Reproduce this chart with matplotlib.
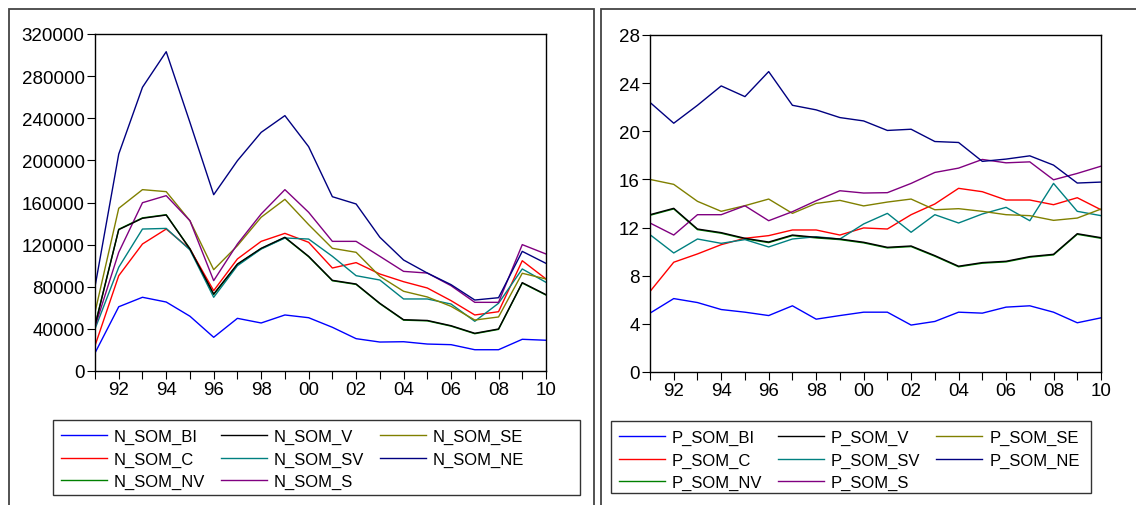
import matplotlib
matplotlib.use("Agg")
import matplotlib.pyplot as plt
from matplotlib.patches import Rectangle

plt.rcParams['font.family'] = ['Liberation Sans', 'DejaVu Sans']

# years on the x axis
years = list(range(1991, 2011))
year_labels = ['' if y % 2 else '%02d' % (y % 100) for y in years]

# left panel: numbers (N_SOM_*)
n_bi = [17100, 61000, 70000, 65500, 52000, 32000, 50000, 45600, 53200, 50600,
        41500, 30700, 27500, 27800, 25600, 25000, 20200, 20200, 30100, 29200]
n_v = [43000, 134200, 145000, 148100, 115800, 73100, 101600, 116500, 127000, 108900,
       86100, 82600, 64300, 48700, 48000, 43000, 35800, 39900, 83900, 72500]
n_se = [55700, 154500, 172200, 170300, 142700, 96200, 119000, 146000, 163000, 139000,
        116500, 112700, 89900, 75700, 70300, 61400, 48400, 51300, 92800, 87400]
n_c = [24000, 90500, 120600, 134800, 115800, 76300, 106400, 123100, 130700, 122200,
       97800, 102900, 92100, 84800, 78800, 66800, 53200, 56300, 104700, 87400]
n_sv = [39900, 98500, 134800, 135400, 115000, 70000, 100000, 115800, 126300, 125300,
        108900, 90500, 86400, 68400, 68400, 63600, 47200, 64300, 96900, 84200]
n_ne = [80000, 206000, 269400, 303200, 236000, 167400, 199700, 226600, 242500, 213000,
        165500, 158600, 127000, 105400, 93000, 82000, 67400, 69600, 113600, 102200]
n_nv = [43500, 134600, 145400, 148400, 116200, 72600, 101200, 116100, 126600, 108500,
        85700, 82200, 63900, 48300, 47600, 42600, 35400, 39500, 83500, 72100]
n_s = [42000, 112700, 159800, 166500, 142700, 85800, 120600, 149100, 172200, 150700,
       123100, 123100, 108900, 94600, 93000, 81000, 65200, 65200, 120000, 111100]

# right panel: shares (P_SOM_*)
p_bi = [4.89, 6.10, 5.77, 5.19, 4.97, 4.69, 5.50, 4.39, 4.69, 4.97,
        4.97, 3.90, 4.20, 4.97, 4.89, 5.39, 5.50, 4.97, 4.09, 4.50]
p_v = [13.07, 13.60, 11.88, 11.58, 11.11, 10.80, 11.38, 11.19, 11.05, 10.78,
       10.36, 10.47, 9.67, 8.79, 9.09, 9.20, 9.59, 9.78, 11.49, 11.16]
p_se = [16.00, 15.59, 14.18, 13.35, 13.82, 14.37, 13.18, 14.01, 14.26, 13.80,
        14.12, 14.37, 13.48, 13.57, 13.35, 13.07, 12.99, 12.60, 12.79, 13.54]
p_c = [6.69, 9.12, 9.81, 10.58, 11.11, 11.33, 11.80, 11.80, 11.38, 11.97,
       11.88, 13.07, 13.96, 15.26, 14.98, 14.29, 14.29, 13.90, 14.48, 13.48]
p_sv = [11.41, 9.89, 11.05, 10.69, 11.00, 10.39, 11.05, 11.24, 11.05, 12.30,
        13.18, 11.61, 13.07, 12.38, 13.13, 13.68, 12.57, 15.67, 13.35, 12.99]
p_ne = [22.40, 20.67, 22.16, 23.77, 22.88, 24.96, 22.16, 21.78, 21.14, 20.86,
        20.07, 20.17, 19.15, 19.07, 17.50, 17.69, 17.96, 17.19, 15.70, 15.78]
p_nv = [13.02, 13.55, 11.83, 11.53, 11.06, 10.75, 11.33, 11.14, 11.00, 10.73,
        10.31, 10.42, 9.62, 8.74, 9.04, 9.15, 9.54, 9.73, 11.44, 11.11]
p_s = [12.38, 11.38, 13.07, 13.07, 13.81, 12.57, 13.32, 14.23, 15.06, 14.87,
       14.90, 15.67, 16.58, 16.94, 17.66, 17.38, 17.46, 15.97, 16.50, 17.10]

names = ['BI', 'V', 'SE', 'C', 'SV', 'NE', 'NV', 'S']
colors = ['#0000ff', '#000000', '#808000', '#ff0000', '#008080', '#000080', '#008000', '#800080']
# draw order: green first so the black line sits on top of it
draw_order = [6, 0, 3, 4, 2, 7, 5, 1]
# legend rows read BI V SE / C SV NE / NV S, matplotlib fills by column
legend_order = [0, 3, 6, 1, 4, 7, 2, 5]

W, H = 1136, 506
fig = plt.figure(figsize=(W / 100, H / 100), dpi=100)


def fx(px):
    return px / W


def fy(py):
    return 1 - py / H


def box(x0, y0, x1, y1, ec, lw):
    fig.patches.append(Rectangle((fx(x0), fy(y1)), fx(x1 - x0), (y1 - y0) / H,
                                 transform=fig.transFigure, fill=False,
                                 edgecolor=ec, linewidth=lw))


# panel frames
box(9, 10, 594, 520, '#444444', 1.3)
box(601, 10, 1150, 520, '#444444', 1.3)


def panel(ax_box, series, prefix, yticks, ylim, leg_box):
    left, top, right, bottom = ax_box
    ax = fig.add_axes([fx(left), fy(bottom), fx(right - left), (bottom - top) / H])
    lines = [None] * len(series)
    for i in draw_order:
        lines[i], = ax.plot(years, series[i], color=colors[i], linewidth=1.0,
                            label=prefix + names[i])
    ax.set_xlim(1991, 2010)
    ax.set_ylim(*ylim)
    ax.set_yticks(yticks)
    ax.set_xticks(years)
    ax.set_xticklabels(year_labels)
    ax.tick_params(direction='out', length=5.5, width=0.8, labelsize=13.5, pad=2)
    for sp in ax.spines.values():
        sp.set_linewidth(1.0)
    # legend box drawn separately, entries placed inside it
    lx0, ly0, lx1, ly1 = leg_box
    box(lx0, ly0, lx1, ly1, '#333333', 1.0)
    handles = [lines[i] for i in legend_order]
    fig.legend(handles, [h.get_label() for h in handles], ncol=3,
               loc='upper left', bbox_to_anchor=(fx(lx0 + 8), fy(ly0 + 9)),
               frameon=False, fontsize=12, handlelength=2.75, handletextpad=0.42,
               columnspacing=0.95, labelspacing=0.45, borderpad=0, borderaxespad=0)
    return ax


panel((95, 35, 546, 372), [n_bi, n_v, n_se, n_c, n_sv, n_ne, n_nv, n_s], 'N_SOM_',
      list(range(0, 320001, 40000)), (0, 320000), (53, 421, 580, 496))
panel((650, 36, 1101, 373), [p_bi, p_v, p_se, p_c, p_sv, p_ne, p_nv, p_s], 'P_SOM_',
      list(range(0, 29, 4)), (0, 28), (611, 422, 1091, 494))

fig.savefig('out.png', dpi=100)
